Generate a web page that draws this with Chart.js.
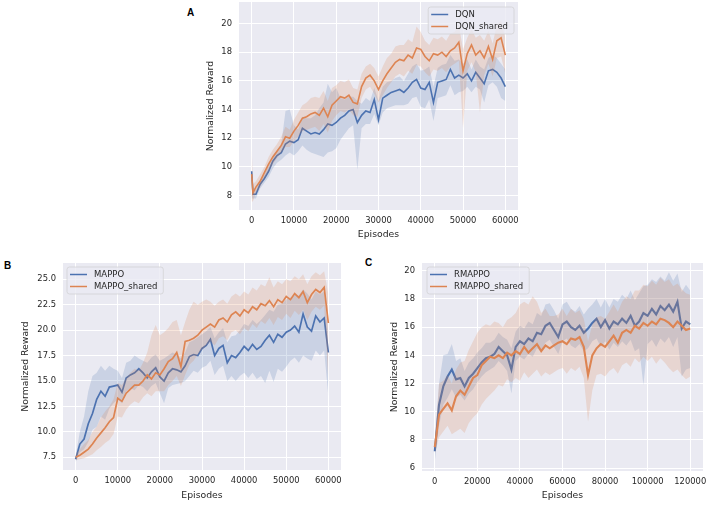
<!DOCTYPE html>
<html lang="en">
<head>
    <meta charset="UTF-8">
    <title>Normalized Reward vs Episodes</title>
    <script src="https://cdn.jsdelivr.net/npm/chart.js"></script>
    <style>
        body { margin: 0; width: 708px; height: 506px; background: #fff; position: relative; overflow: hidden; }
        .box { position: absolute; }
        .tag { position: absolute; font: bold 10px "Liberation Sans", Arial, sans-serif; color: #000; line-height: 1; }
    </style>
</head>
<body>
    <div class="tag" style="left:187px; top:8px;">A</div>
    <div class="tag" style="left:4px; top:261px;">B</div>
    <div class="tag" style="left:365px; top:258px;">C</div>

    <div class="box" style="left:201px; top:0px; width:325px; height:244px;"><canvas id="chartA"></canvas></div>
    <div class="box" style="left:16px; top:255px; width:332px; height:250px;"><canvas id="chartB"></canvas></div>
    <div class="box" style="left:385px; top:255px; width:323px; height:250px;"><canvas id="chartC"></canvas></div>

    <script>
        // ---- Panel A: DQN ----
        const episodesA = [0, 300, 1000, 2000, 3000, 4000, 5000, 6000, 7000, 8000, 9000, 10000,
            11000, 12000, 13000, 14000, 15000, 16000, 17000, 18000, 19000, 20000,
            21000, 22000, 23000, 24000, 25000, 26000, 27000, 28000, 29000, 30000,
            31000, 32000, 33000, 34000, 35000, 36000, 37000, 38000, 39000, 40000,
            41000, 42000, 43000, 44000, 45000, 46000, 47000, 48000, 49000, 50000,
            51000, 52000, 53000, 54000, 55000, 56000, 57000, 58000, 59000, 60000];
        const dqnMean = [9.7, 8.1, 8.1, 8.8, 9.2, 9.7, 10.4, 10.8, 11.0, 11.6, 11.8, 11.7,
            11.9, 12.7, 12.5, 12.3, 12.4, 12.3, 12.6, 13.0, 12.9, 13.1,
            13.4, 13.6, 13.9, 14.0, 13.1, 13.6, 13.9, 13.8, 14.7, 13.3,
            14.8, 15.0, 15.2, 15.3, 15.4, 15.2, 15.5, 15.9, 16.1, 15.5,
            15.4, 15.9, 14.5, 15.9, 16.0, 16.1, 16.8, 16.2, 16.4, 16.2,
            16.5, 16.0, 16.6, 16.2, 15.8, 16.7, 16.8, 16.6, 16.2, 15.6];
        const dqnLow = [7.8, 7.8, 7.8, 8.5, 8.9, 9.3, 9.9, 10.3, 10.5, 10.8, 11.0, 10.8,
            11.1, 11.5, 11.2, 11.0, 10.9, 10.8, 10.7, 11.0, 11.1, 11.3,
            11.9, 12.3, 12.7, 12.9, 9.8, 12.7, 13.0, 13.0, 13.7, 12.9,
            13.8, 14.1, 14.2, 14.3, 14.3, 14.3, 14.4, 14.8, 14.9, 14.2,
            14.1, 14.7, 13.2, 14.8, 14.9, 15.0, 15.7, 15.0, 15.2, 15.3,
            15.6, 15.2, 15.6, 15.4, 14.5, 15.7, 15.9, 15.6, 14.8, 14.6];
        const dqnHigh = [9.8, 8.6, 8.4, 9.1, 9.5, 10.1, 10.8, 11.2, 11.6, 13.9, 14.0, 12.9,
            12.6, 13.5, 13.4, 13.4, 13.6, 14.1, 14.5, 15.8, 15.2, 15.5,
            14.8, 14.7, 14.9, 14.9, 14.6, 14.4, 14.8, 14.6, 15.5, 14.6,
            15.6, 15.9, 16.0, 16.2, 16.3, 16.0, 16.5, 17.0, 17.2, 16.7,
            16.8, 17.0, 15.6, 16.9, 17.1, 17.2, 17.8, 17.4, 17.5, 17.2,
            17.5, 16.8, 17.5, 17.0, 16.8, 17.6, 17.8, 17.6, 17.2, 16.8];
        const dqnSharedMean = [9.5, 8.2, 8.6, 9.0, 9.6, 10.2, 10.7, 11.1, 11.5, 12.1, 12.0, 12.5,
            12.9, 13.4, 13.5, 13.7, 13.8, 13.6, 14.1, 13.5, 14.3, 14.6,
            14.9, 14.8, 15.0, 14.5, 14.4, 15.6, 16.2, 16.4, 16.0, 15.4,
            16.0, 16.5, 16.9, 17.3, 17.5, 17.4, 17.8, 17.6, 18.3, 18.2,
            17.7, 17.4, 17.9, 17.8, 18.0, 17.7, 18.1, 18.3, 18.7, 16.7,
            17.9, 18.5, 17.8, 18.1, 17.6, 18.4, 17.5, 18.8, 19.0, 17.8];
        const dqnSharedLow = [7.6, 7.6, 8.2, 8.6, 9.2, 9.7, 10.2, 10.6, 11.0, 11.4, 11.4, 11.8,
            12.1, 12.5, 12.6, 12.7, 12.8, 12.5, 13.0, 12.4, 13.2, 13.6,
            13.9, 13.8, 14.0, 13.6, 13.5, 14.8, 15.4, 15.6, 15.1, 14.5,
            15.0, 15.5, 15.9, 16.3, 16.5, 16.3, 16.7, 16.5, 17.1, 17.0,
            16.6, 16.3, 16.8, 16.7, 16.9, 16.6, 17.0, 17.2, 17.4, 12.7,
            16.7, 17.3, 16.6, 13.8, 16.4, 17.2, 16.3, 17.6, 17.7, 16.5];
        const dqnSharedHigh = [11.4, 8.8, 9.0, 9.5, 10.0, 10.7, 11.2, 11.6, 12.1, 12.8, 12.6, 13.3,
            13.8, 14.3, 14.5, 14.8, 14.9, 14.8, 15.3, 14.6, 15.5, 15.7,
            16.0, 15.9, 16.1, 15.5, 15.4, 16.5, 17.0, 17.2, 16.9, 16.3,
            17.0, 17.6, 17.9, 18.4, 18.5, 18.5, 18.9, 18.7, 19.8, 19.4,
            18.8, 18.5, 19.0, 18.9, 19.1, 18.8, 19.3, 19.4, 19.9, 18.2,
            19.0, 19.6, 19.0, 19.2, 18.8, 19.5, 18.6, 19.9, 20.2, 19.0];
        const xTicksA = [0, 10000, 20000, 30000, 40000, 50000, 60000];
        const yTicksA = [8, 10, 12, 14, 16, 18, 20];

        // ---- Panel B: MAPPO ----
        const episodesB = [0, 1000, 2000, 3000, 4000, 5000, 6000, 7000, 8000, 9000, 10000,
            11000, 12000, 13000, 14000, 15000, 16000, 17000, 18000, 19000, 20000,
            21000, 22000, 23000, 24000, 25000, 26000, 27000, 28000, 29000, 30000,
            31000, 32000, 33000, 34000, 35000, 36000, 37000, 38000, 39000, 40000,
            41000, 42000, 43000, 44000, 45000, 46000, 47000, 48000, 49000, 50000,
            51000, 52000, 53000, 54000, 55000, 56000, 57000, 58000, 59000, 60000];
        const mappoMean = [7.3, 8.8, 9.3, 10.8, 11.8, 13.2, 14.0, 13.5, 14.4, 14.5, 14.6,
            13.9, 15.3, 15.6, 15.8, 16.2, 15.8, 15.3, 15.9, 16.3, 15.4,
            15.0, 15.8, 16.2, 16.1, 15.9, 16.5, 17.4, 17.6, 17.5, 18.2,
            18.5, 19.1, 17.5, 18.2, 18.5, 16.8, 17.5, 17.3, 17.8, 18.4,
            18.0, 18.6, 18.1, 18.4, 19.0, 19.5, 18.8, 19.6, 19.3, 19.8,
            20.0, 20.4, 19.8, 21.6, 20.3, 19.9, 21.4, 20.8, 21.2, 17.8];
        const mappoLow = [7.0, 8.0, 8.3, 9.0, 10.2, 10.5, 11.5, 11.2, 12.3, 12.8, 13.2,
            12.8, 14.0, 14.3, 14.1, 14.6, 14.4, 14.0, 14.5, 14.8, 13.8,
            12.8, 14.3, 14.6, 14.7, 14.8, 15.0, 15.5, 16.0, 15.8, 16.3,
            16.5, 17.0, 15.6, 16.2, 16.5, 15.0, 15.5, 15.0, 15.5, 15.8,
            15.3, 15.8, 15.2, 15.5, 14.8, 16.0, 14.9, 16.2, 15.9, 16.4,
            17.0, 17.3, 16.8, 17.5, 17.2, 17.0, 18.0, 17.5, 18.0, 13.5];
        const mappoHigh = [7.6, 10.0, 11.5, 14.0, 15.5, 15.8, 16.5, 16.0, 16.5, 16.2, 16.0,
            15.3, 16.8, 17.0, 17.5, 17.2, 17.0, 16.8, 17.3, 17.6, 17.0,
            17.2, 17.5, 17.8, 17.6, 17.2, 17.8, 18.8, 19.0, 19.3, 19.6,
            19.9, 20.3, 19.2, 19.8, 20.2, 18.8, 19.4, 19.5, 20.0, 20.6,
            20.4, 21.0, 20.6, 21.0, 21.5, 22.0, 21.8, 22.5, 22.6, 23.0,
            23.2, 23.5, 23.4, 24.0, 23.6, 23.0, 23.8, 23.5, 23.8, 19.5];
        const mappoSharedMean = [7.5, 7.7, 8.0, 8.3, 8.8, 9.4, 9.9, 10.4, 11.0, 11.4, 13.3,
            13.0, 13.8, 14.2, 14.6, 14.6, 15.0, 15.6, 15.2, 15.8, 15.6,
            16.2, 16.9, 17.2, 17.8, 16.4, 18.9, 19.0, 19.2, 19.5, 20.0,
            20.3, 20.6, 20.3, 21.0, 21.2, 20.8, 21.5, 21.8, 21.4, 22.0,
            21.7, 22.3, 22.0, 22.6, 22.4, 22.9, 22.3, 23.0, 22.7, 23.3,
            23.0, 23.6, 23.2, 23.8, 22.7, 23.5, 24.0, 23.7, 24.2, 20.7];
        const mappoSharedLow = [7.2, 7.3, 7.4, 7.6, 7.8, 8.2, 8.5, 8.9, 9.2, 9.8, 11.5,
            11.4, 12.2, 12.7, 13.0, 12.8, 13.4, 13.8, 13.5, 14.0, 14.0,
            14.0, 14.6, 15.0, 15.5, 14.5, 15.6, 16.6, 17.0, 17.6, 18.1,
            18.5, 18.9, 18.5, 19.2, 19.4, 19.0, 19.8, 20.0, 19.6, 20.2,
            19.9, 20.6, 20.2, 20.9, 20.6, 21.2, 20.5, 21.3, 21.0, 21.6,
            21.2, 21.9, 21.5, 22.0, 21.0, 21.8, 22.3, 22.0, 22.4, 15.0];
        const mappoSharedHigh = [7.8, 8.3, 8.8, 9.2, 10.0, 10.5, 11.4, 12.0, 12.5, 13.2, 14.8,
            14.6, 15.3, 15.8, 16.2, 16.0, 16.8, 17.8, 19.5, 20.5, 19.5,
            19.8, 20.2, 20.8, 21.0, 19.5, 20.8, 22.0, 22.8, 22.5, 22.8,
            23.0, 22.8, 22.4, 22.8, 23.0, 22.6, 23.3, 23.6, 23.3, 23.8,
            23.5, 24.2, 23.9, 24.5, 24.3, 25.2, 24.2, 24.8, 24.5, 25.0,
            24.8, 25.3, 25.0, 25.5, 24.5, 25.3, 25.7, 25.4, 25.8, 23.5];
        const xTicksB = [0, 10000, 20000, 30000, 40000, 50000, 60000];
        const yTicksB = [7.5, 10, 12.5, 15, 17.5, 20, 22.5, 25];

        // ---- Panel C: RMAPPO ----
        const episodesC = [0, 2000, 4000, 6000, 8000, 10000, 12000, 14000, 16000, 18000, 20000,
            22000, 24000, 26000, 28000, 30000, 32000, 34000, 36000, 38000, 40000,
            42000, 44000, 46000, 48000, 50000, 52000, 54000, 56000, 58000, 60000,
            62000, 64000, 66000, 68000, 70000, 72000, 74000, 76000, 78000, 80000,
            82000, 84000, 86000, 88000, 90000, 92000, 94000, 96000, 98000, 100000,
            102000, 104000, 106000, 108000, 110000, 112000, 114000, 116000, 118000, 120000];
        const rmappoMean = [7.2, 10.5, 11.8, 12.5, 13.0, 12.3, 12.4, 11.8, 12.4, 12.7, 13.1,
            13.5, 13.8, 13.9, 14.1, 14.6, 14.3, 14.0, 13.0, 14.6, 15.0,
            14.8, 15.2, 15.0, 15.6, 15.5, 16.1, 16.3, 15.8, 15.3, 16.2,
            16.4, 16.0, 15.8, 16.1, 15.6, 15.9, 16.3, 16.6, 16.0, 16.5,
            15.9, 16.4, 16.2, 16.6, 16.3, 16.8, 16.1, 16.4, 17.0, 16.8,
            17.3, 16.9, 17.5, 17.2, 17.6, 17.1, 17.8, 15.9, 16.4, 16.2];
        const rmappoLow = [6.5, 9.0, 10.5, 11.0, 11.6, 11.0, 11.2, 10.8, 11.3, 11.6, 12.1,
            12.5, 12.8, 13.0, 13.2, 13.6, 13.3, 12.9, 11.3, 13.6, 13.9,
            13.7, 14.1, 13.9, 14.5, 14.3, 14.9, 15.1, 14.6, 14.1, 15.0,
            15.2, 14.7, 14.5, 14.8, 14.3, 14.5, 15.0, 15.2, 14.6, 15.0,
            14.4, 14.9, 14.6, 15.0, 14.7, 15.1, 14.3, 14.5, 11.9, 14.8,
            15.1, 14.6, 15.2, 14.9, 15.3, 14.6, 15.3, 12.5, 13.0, 13.1];
        const rmappoHigh = [7.5, 12.0, 14.0, 14.1, 14.8, 13.6, 13.8, 12.9, 13.5, 13.8, 14.2,
            14.5, 14.9, 14.9, 15.1, 15.6, 15.3, 15.1, 14.5, 15.7, 16.1,
            15.9, 16.4, 16.2, 17.0, 16.8, 17.6, 17.7, 17.2, 16.6, 17.6,
            17.8, 17.3, 17.1, 17.5, 16.9, 17.3, 17.6, 18.0, 17.4, 18.0,
            17.4, 18.0, 17.8, 18.3, 18.0, 18.6, 17.9, 18.4, 18.9, 19.0,
            19.4, 19.2, 19.6, 19.3, 19.9, 19.3, 19.8, 18.5, 19.0, 18.6];
        const rmappoSharedMean = [7.5, 9.8, 10.2, 10.6, 10.1, 11.1, 11.5, 11.2, 11.8, 12.4, 12.6,
            13.3, 13.6, 13.9, 13.8, 14.0, 13.8, 14.2, 14.0, 14.3, 14.1,
            14.6, 14.2, 14.5, 14.8, 14.3, 14.7, 14.5, 14.7, 14.9, 15.0,
            14.8, 15.2, 15.1, 15.3, 14.6, 12.6, 14.0, 14.5, 14.8, 14.6,
            15.0, 15.4, 14.9, 15.6, 15.8, 15.6, 16.1, 15.9, 16.3, 16.1,
            16.4, 16.2, 16.6, 16.5, 16.3, 16.0, 16.4, 16.1, 15.8, 15.9];
        const rmappoSharedLow = [7.0, 8.2, 8.6, 9.0, 8.4, 8.6, 8.8, 8.5, 9.2, 9.6, 9.9,
            10.5, 10.9, 11.2, 11.5, 11.9, 11.8, 12.3, 12.1, 12.4, 12.2,
            12.8, 12.4, 12.7, 13.0, 12.5, 12.8, 12.6, 12.8, 13.0, 13.1,
            12.7, 13.1, 12.9, 13.2, 12.4, 9.3, 11.5, 12.6, 12.7, 12.5,
            12.9, 13.1, 12.7, 13.3, 13.5, 13.2, 13.8, 13.5, 13.9, 13.6,
            13.9, 13.4, 13.8, 13.5, 13.1, 12.8, 13.0, 12.6, 12.3, 12.5];
        const rmappoSharedHigh = [8.0, 12.0, 12.2, 12.6, 12.0, 13.0, 13.5, 13.6, 14.4, 15.0, 15.6,
            16.0, 16.2, 16.1, 16.4, 16.3, 16.0, 16.5, 16.7, 17.0, 17.6,
            17.8, 17.6, 18.2, 17.8, 17.0, 17.3, 16.8, 16.8, 16.9, 17.3,
            16.8, 17.3, 17.0, 17.2, 16.6, 15.0, 16.2, 16.7, 16.8, 16.6,
            17.1, 17.6, 17.1, 17.8, 18.2, 18.0, 18.6, 18.6, 19.0, 18.9,
            19.3, 19.0, 19.5, 19.2, 19.4, 18.9, 19.1, 18.7, 18.4, 18.3];
        const xTicksC = [0, 20000, 40000, 60000, 80000, 100000, 120000];
        const yTicksC = [6, 8, 10, 12, 14, 16, 18, 20];

        const BLUE = '#4C72B0';
        const ORANGE = '#DD8452';
        const BLUE_BAND = 'rgba(76,114,176,0.2)';
        const ORANGE_BAND = 'rgba(221,132,82,0.2)';
        const TEXT = '#262626';
        const FONT = '"DejaVu Sans", sans-serif';

        // grey seaborn-like plot background
        const plotBg = {
            id: 'plotBg',
            beforeDraw(chart) {
                const a = chart.chartArea, ctx = chart.ctx;
                ctx.save();
                ctx.fillStyle = '#EAEAF2';
                ctx.fillRect(a.left, a.top, a.right - a.left, a.bottom - a.top);
                ctx.restore();
            }
        };

        // legend drawn inside the plot, like matplotlib
        const innerLegend = {
            id: 'innerLegend',
            afterDatasetsDraw(chart, args, opts) {
                const a = chart.chartArea, ctx = chart.ctx;
                ctx.save();
                ctx.font = '8.5px ' + FONT;
                const w = Math.max(...opts.items.map(it => ctx.measureText(it.text).width)) + 33;
                const h = 27;
                const x = opts.align === 'right' ? a.right - opts.dx - w : a.left + opts.dx;
                const y = a.top + opts.dy;
                ctx.beginPath();
                ctx.roundRect(x, y, w, h, 2.5);
                ctx.fillStyle = 'rgba(234,234,242,0.8)';
                ctx.fill();
                ctx.strokeStyle = 'rgba(204,204,204,0.8)';
                ctx.lineWidth = 0.8;
                ctx.stroke();
                opts.items.forEach((it, i) => {
                    const ry = y + 7.5 + i * 12;
                    ctx.strokeStyle = it.color;
                    ctx.lineWidth = 1.5;
                    ctx.beginPath();
                    ctx.moveTo(x + 3, ry);
                    ctx.lineTo(x + 20, ry);
                    ctx.stroke();
                    ctx.fillStyle = TEXT;
                    ctx.textBaseline = 'middle';
                    ctx.fillText(it.text, x + 27, ry + 0.5);
                });
                ctx.restore();
            }
        };

        function pts(xs, ys) {
            return xs.map((x, i) => ({ x: x, y: ys[i] }));
        }

        // no extra room for half tick labels at the ends
        function noPad(s) {
            s.paddingTop = 0; s.paddingBottom = 0; s.paddingLeft = 0; s.paddingRight = 0;
        }

        function drawPanel(id, p) {
            // order: orange on top, then its band, then blue line and band
            const datasets = [
                { data: pts(p.x, p.orange[0]), borderColor: ORANGE, borderWidth: p.lineW, fill: false },
                { data: pts(p.x, p.orange[2]), borderWidth: 0, backgroundColor: ORANGE_BAND, fill: 2 },
                { data: pts(p.x, p.orange[1]), borderWidth: 0, fill: false },
                { data: pts(p.x, p.blue[0]), borderColor: BLUE, borderWidth: p.lineW, fill: false },
                { data: pts(p.x, p.blue[2]), borderWidth: 0, backgroundColor: BLUE_BAND, fill: 5 },
                { data: pts(p.x, p.blue[1]), borderWidth: 0, fill: false }
            ];
            const tickFont = { family: FONT, size: 8.4 };
            const titleFont = { family: FONT, size: 9.3 };
            new Chart(document.getElementById(id), {
                type: 'line',
                data: { datasets: datasets },
                options: {
                    responsive: true,
                    maintainAspectRatio: false,
                    animation: false,
                    layout: { padding: { left: 0, top: p.padTop, right: p.padRight, bottom: 0 } },
                    elements: { point: { radius: 0 }, line: { tension: 0 } },
                    plugins: {
                        legend: { display: false },
                        tooltip: { enabled: false },
                        innerLegend: {
                            align: p.legendAlign, dx: p.legendDx, dy: p.legendDy,
                            items: [{ text: p.names[0], color: BLUE }, { text: p.names[1], color: ORANGE }]
                        }
                    },
                    scales: {
                        x: {
                            type: 'linear', min: p.xMin, max: p.xMax,
                            afterBuildTicks: s => { s.ticks = p.xTicks.map(v => ({ value: v })); },
                            afterFit: s => { s.height = p.xAxisH; noPad(s); },
                            grid: { color: '#ffffff', lineWidth: 1, drawTicks: false },
                            border: { display: false },
                            ticks: {
                                color: TEXT, font: tickFont, padding: 6, maxRotation: 0, autoSkip: false,
                                callback: v => String(v)
                            },
                            title: { display: true, text: 'Episodes', color: TEXT, font: titleFont }
                        },
                        y: {
                            type: 'linear', min: p.yMin, max: p.yMax,
                            afterBuildTicks: s => { s.ticks = p.yTicks.map(v => ({ value: v })); },
                            afterFit: s => { s.width = p.yAxisW; noPad(s); },
                            grid: { color: '#ffffff', lineWidth: 1, drawTicks: false },
                            border: { display: false },
                            ticks: {
                                color: TEXT, font: tickFont, padding: 7, autoSkip: false,
                                callback: v => v.toFixed(p.yDigits)
                            },
                            title: { display: true, text: 'Normalized Reward', color: TEXT, font: titleFont }
                        }
                    }
                },
                plugins: [plotBg, innerLegend]
            });
        }

        drawPanel('chartA', {
            x: episodesA,
            blue: [dqnMean, dqnLow, dqnHigh],
            orange: [dqnSharedMean, dqnSharedLow, dqnSharedHigh],
            names: ['DQN', 'DQN_shared'],
            xMin: -3000, xMax: 63000, yMin: 7.0, yMax: 21.5,
            xTicks: xTicksA, yTicks: yTicksA, yDigits: 0, lineW: 1.6,
            yAxisW: 38, xAxisH: 34, padTop: 2, padRight: 8,
            legendAlign: 'right', legendDx: 4, legendDy: 5
        });

        drawPanel('chartB', {
            x: episodesB,
            blue: [mappoMean, mappoLow, mappoHigh],
            orange: [mappoSharedMean, mappoSharedLow, mappoSharedHigh],
            names: ['MAPPO', 'MAPPO_shared'],
            xMin: -3000, xMax: 63000, yMin: 6.25, yMax: 26.6,
            xTicks: xTicksB, yTicks: yTicksB, yDigits: 1, lineW: 1.7,
            yAxisW: 47, xAxisH: 35, padTop: 8, padRight: 7,
            legendAlign: 'left', legendDx: 4, legendDy: 4
        });

        drawPanel('chartC', {
            x: episodesC,
            blue: [rmappoMean, rmappoLow, rmappoHigh],
            orange: [rmappoSharedMean, rmappoSharedLow, rmappoSharedHigh],
            names: ['RMAPPO', 'RMAPPO_shared'],
            xMin: -6000, xMax: 126000, yMin: 5.8, yMax: 20.55,
            xTicks: xTicksC, yTicks: yTicksC, yDigits: 0, lineW: 2.1,
            yAxisW: 37, xAxisH: 34, padTop: 8, padRight: 5,
            legendAlign: 'left', legendDx: 5, legendDy: 4
        });
    </script>
</body>
</html>
